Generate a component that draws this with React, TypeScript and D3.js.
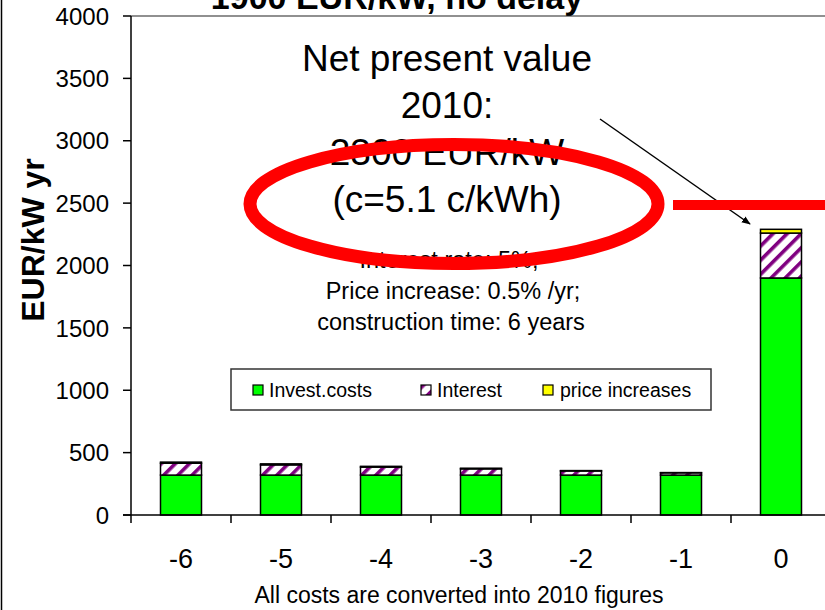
import React from "react";
import * as d3 from "d3";

// Year relative to commissioning (2010 = 0)
const years = ["-6", "-5", "-4", "-3", "-2", "-1", "0"];
// EUR/kW yr, all converted to 2010 figures
const investCosts = [320, 320, 320, 320, 320, 320, 1900];
const interestCosts = [95, 82, 64, 50, 33, 18, 360];
const priceIncreases = [9, 8, 6, 5, 3, 2, 30];
const yTicks = [0, 500, 1000, 1500, 2000, 2500, 3000, 3500, 4000];

const seriesKeys = ["invest", "interest", "price"];
const seriesNames = ["Invest.costs", "Interest", "price increases"];

const W = 825;
const H = 610;
const FONT = "'Liberation Sans', Arial, Helvetica, sans-serif";

export default function App() {
  const plotLeft = 131;
  const plotRight = 831;
  const plotTop = 16;
  const plotBottom = 515;

  const x = d3
    .scaleBand<string>()
    .domain(years)
    .range([plotLeft, plotRight])
    .paddingInner(0.59)
    .paddingOuter(0.295);

  const y = d3.scaleLinear().domain([0, 4000]).range([plotBottom, plotTop]);

  const rows = years.map((yr, i) => ({
    year: yr,
    invest: investCosts[i],
    interest: interestCosts[i],
    price: priceIncreases[i],
  }));
  const stacked = d3.stack<any>().keys(seriesKeys)(rows);

  const fills: Record<string, string> = {
    invest: "#00ff00",
    interest: "url(#hatch)",
    price: "#ffff00",
  };

  const step = x.step();
  const tickXs = years.map((_, i) => plotLeft + i * step).concat([plotRight]);

  // legend layout
  const legend = { x: 231, y: 369, w: 480, h: 41 };
  const legendItems = [
    { key: "invest", sx: 253, tx: 269 },
    { key: "interest", sx: 421, tx: 437 },
    { key: "price", sx: 543, tx: 560 },
  ];

  const cx = 447;

  return (
    <svg
      width={W}
      height={H}
      style={{ position: "absolute", left: 0, top: 0, background: "#fff" }}
      fontFamily={FONT}
    >
      <defs>
        <pattern
          id="hatch"
          patternUnits="userSpaceOnUse"
          width={10}
          height={10}
          patternTransform="rotate(45)"
        >
          <rect x={0} y={0} width={10} height={10} fill="#ffffff" />
          <rect x={0} y={0} width={3.6} height={10} fill="#800080" />
        </pattern>
        <marker
          id="arrowHead"
          viewBox="0 0 10 10"
          refX={9}
          refY={5}
          markerWidth={9}
          markerHeight={9}
          orient="auto"
          markerUnits="userSpaceOnUse"
        >
          <path d="M0,1 L10,5 L0,9 Z" fill="#000" />
        </marker>
      </defs>

      <rect x={0} y={0} width={W} height={H} fill="#fff" />

      {/* outer chart frame (left edge) */}
      <line x1={1.5} y1={0} x2={1.5} y2={H} stroke="#000" strokeWidth={1.5} />

      {/* title, running off the top edge of the page */}
      <text
        x={397}
        y={9}
        textAnchor="middle"
        fontSize={34}
        fontWeight="bold"
        fill="#000"
      >
        1900 EUR/kW, no delay
      </text>

      {/* plot area top border */}
      <line x1={plotLeft} y1={plotTop} x2={W} y2={plotTop} stroke="#222" strokeWidth={1.2} />

      {/* stacked bars */}
      {stacked.map((layer: any) => (
        <g key={layer.key}>
          {layer.map((d: any, i: number) => (
            <rect
              key={i}
              x={x(years[i])}
              y={y(d[1])}
              width={x.bandwidth()}
              height={Math.max(0, y(d[0]) - y(d[1]))}
              fill={fills[layer.key]}
              stroke="#000"
              strokeWidth={1.5}
            />
          ))}
        </g>
      ))}

      {/* y axis */}
      <line x1={plotLeft} y1={plotTop} x2={plotLeft} y2={plotBottom} stroke="#000" strokeWidth={1.5} />
      {yTicks.map((t) => (
        <g key={t}>
          <line x1={plotLeft - 8} x2={plotLeft} y1={y(t)} y2={y(t)} stroke="#000" strokeWidth={1.5} />
          <text
            x={109}
            y={y(t)}
            dy="0.36em"
            textAnchor="end"
            fontSize={24}
            fill="#000"
          >
            {t}
          </text>
        </g>
      ))}
      <text
        transform={`translate(44,240) rotate(-90)`}
        textAnchor="middle"
        fontSize={32}
        fontWeight="bold"
        fill="#000"
      >
        EUR/kW yr
      </text>

      {/* x axis */}
      <line x1={plotLeft - 8} y1={plotBottom} x2={W} y2={plotBottom} stroke="#000" strokeWidth={1.5} />
      {tickXs.map((tx, i) => (
        <line key={i} x1={tx} x2={tx} y1={plotBottom} y2={plotBottom + 8} stroke="#000" strokeWidth={1.5} />
      ))}
      {years.map((yr) => (
        <text
          key={yr}
          x={(x(yr) as number) + x.bandwidth() / 2}
          y={568}
          textAnchor="middle"
          fontSize={27}
          fill="#000"
        >
          {yr}
        </text>
      ))}
      <text x={459} y={603} textAnchor="middle" fontSize={23} fill="#000">
        All costs are converted into 2010 figures
      </text>

      {/* legend */}
      <rect
        x={legend.x}
        y={legend.y}
        width={legend.w}
        height={legend.h}
        fill="#fff"
        stroke="#333"
        strokeWidth={1.5}
      />
      {legendItems.map((item, i) => (
        <g key={item.key}>
          <rect
            x={item.sx}
            y={385}
            width={10}
            height={10}
            fill={fills[item.key]}
            stroke="#000"
            strokeWidth={1.2}
          />
          <text x={item.tx} y={397} fontSize={19.5} fill="#000">
            {seriesNames[i]}
          </text>
        </g>
      ))}

      {/* annotation text */}
      <g fontSize={37} textAnchor="middle" fill="#000">
        <text x={cx} y={71}>Net present value</text>
        <text x={cx} y={118}>2010:</text>
        <text x={cx} y={165}>2300 EUR/kW</text>
        <text x={cx} y={212}>(c=5.1 c/kWh)</text>
      </g>
      <g fontSize={23.5} textAnchor="middle" fill="#000">
        <text x={cx + 2} y={268}>Interest rate: 5%;</text>
        <text x={cx + 6} y={299}>Price increase: 0.5% /yr;</text>
        <text x={cx + 4} y={330}>construction time: 6 years</text>
      </g>

      {/* arrow to the net present value bar */}
      <line
        x1={600}
        y1={119}
        x2={750}
        y2={224}
        stroke="#000"
        strokeWidth={1.5}
        markerEnd="url(#arrowHead)"
      />

      {/* red highlight */}
      <ellipse cx={454} cy={204} rx={204} ry={59.5} fill="none" stroke="#ff0000" strokeWidth={13} />
      <line x1={673} y1={205} x2={W} y2={205} stroke="#ff0000" strokeWidth={10} />
    </svg>
  );
}
